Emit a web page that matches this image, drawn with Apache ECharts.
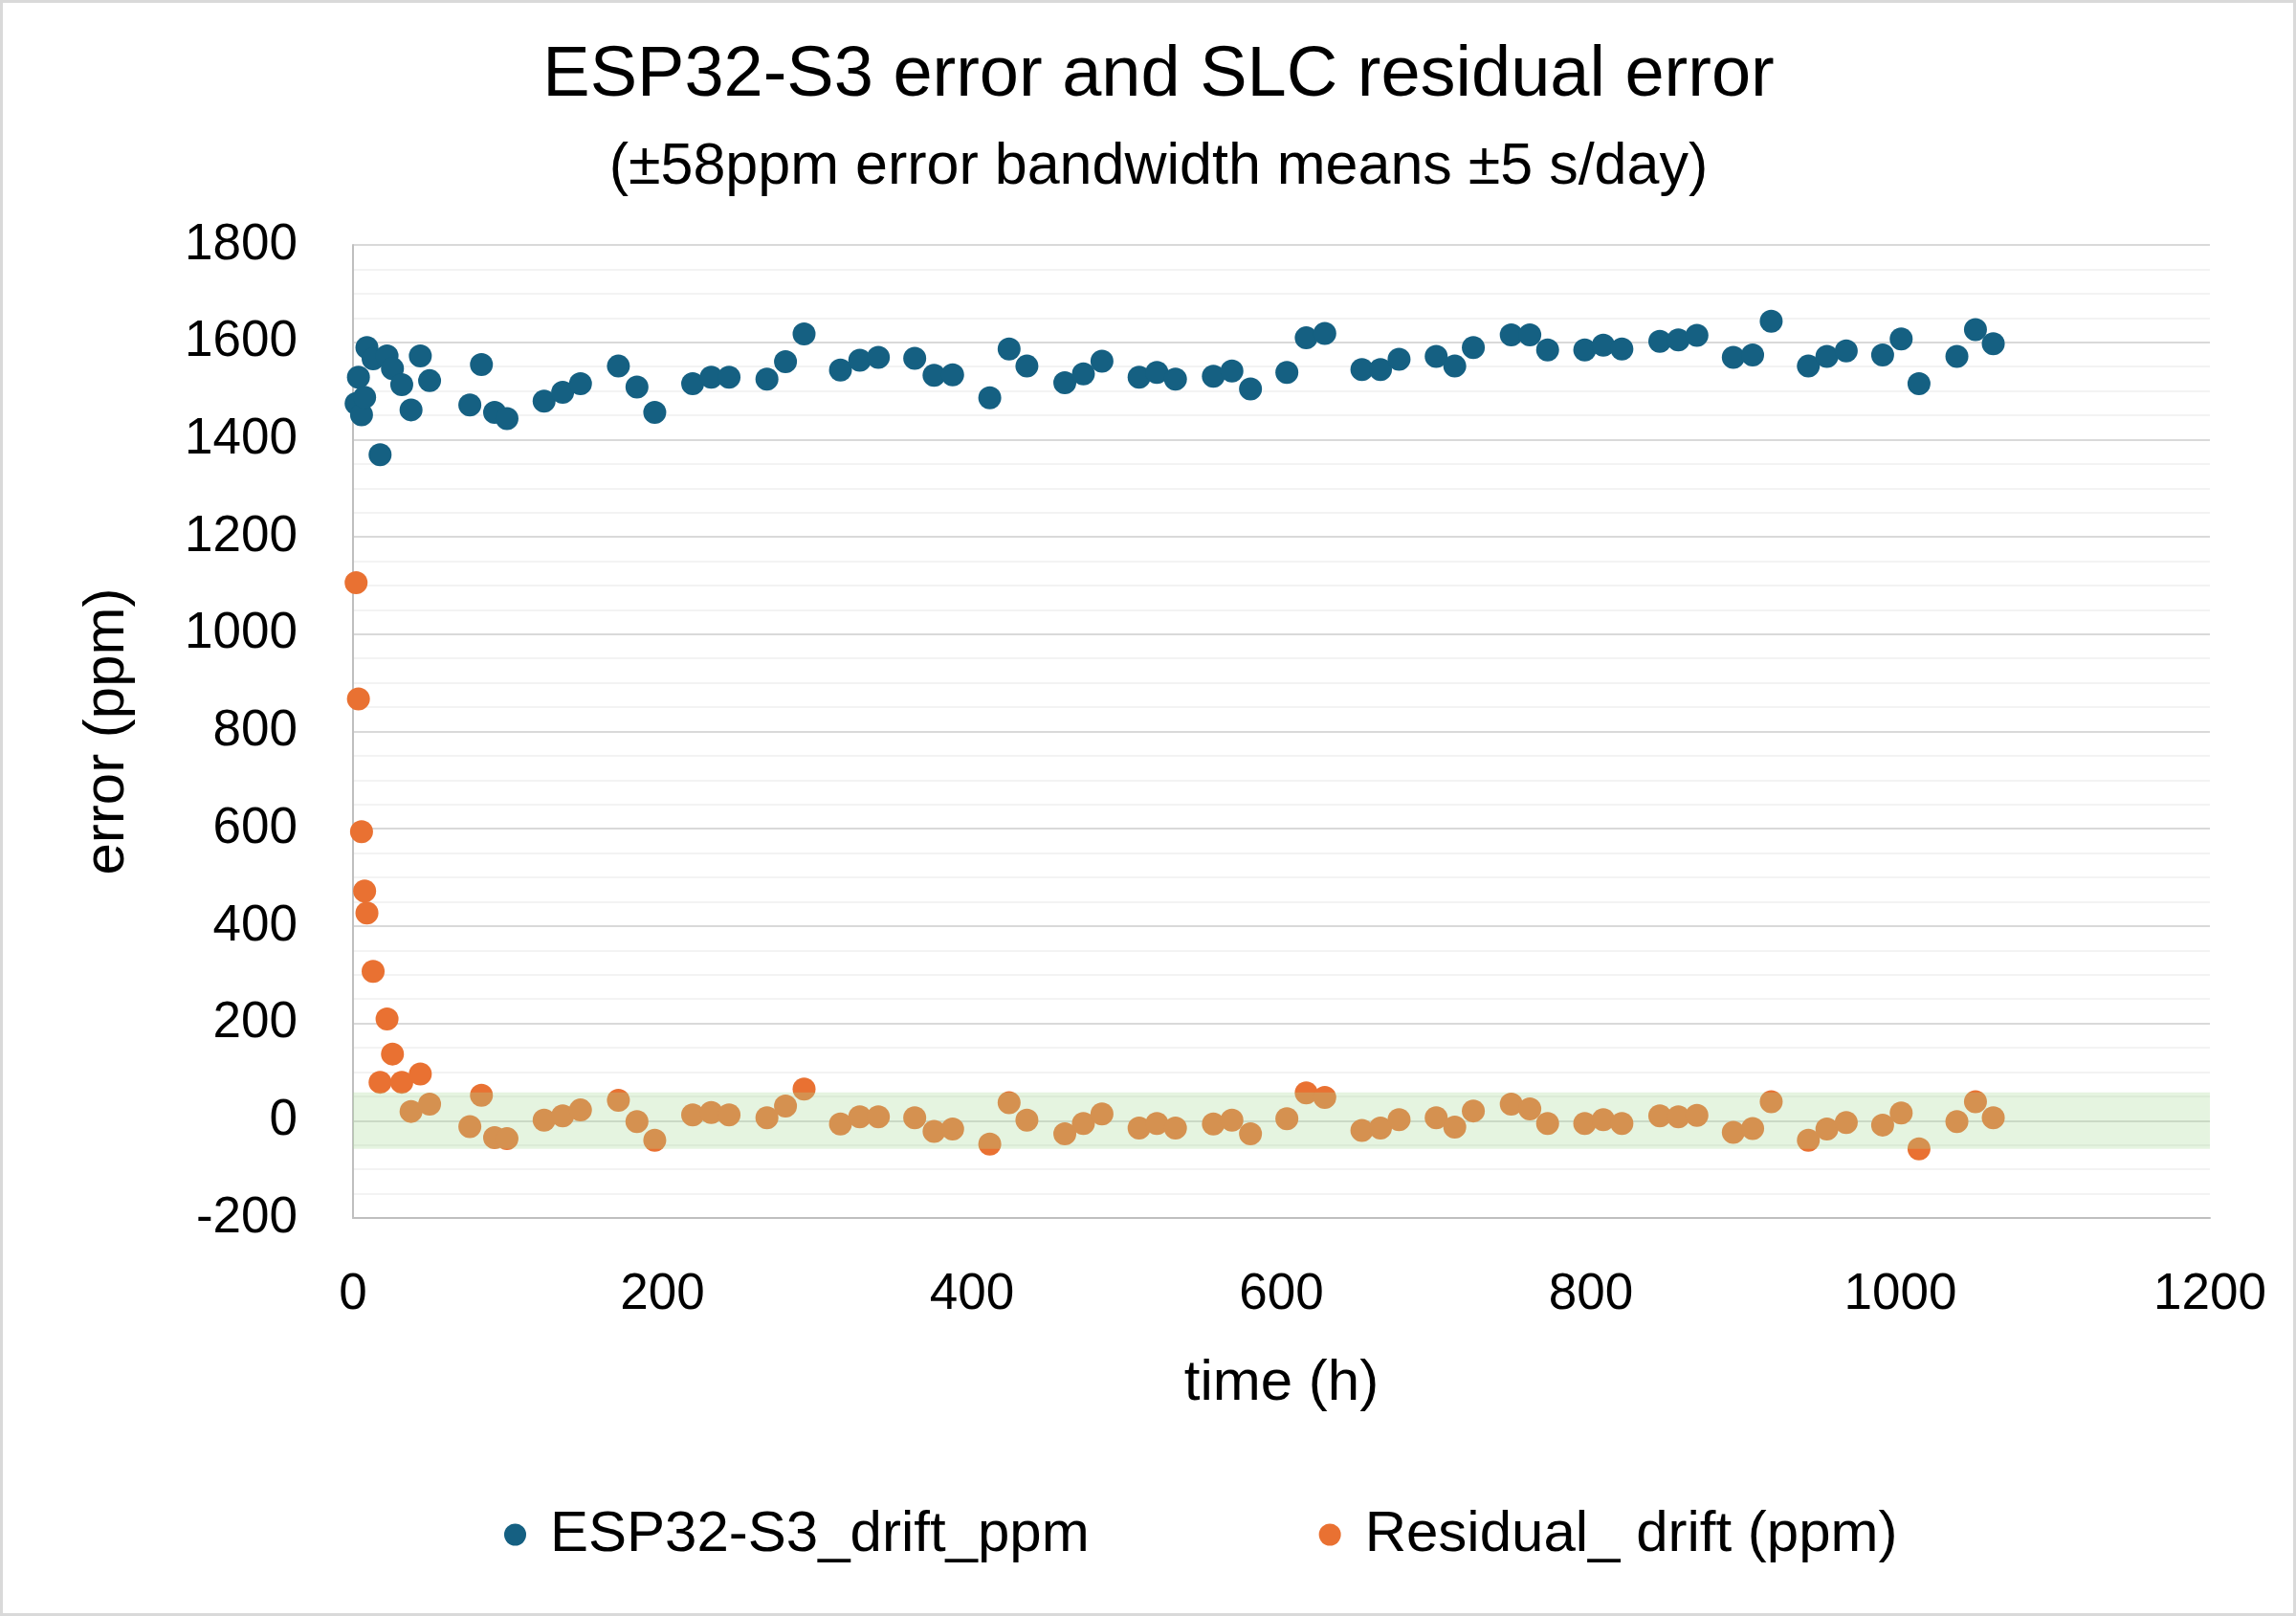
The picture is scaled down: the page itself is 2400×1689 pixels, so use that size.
<!DOCTYPE html>
<html>
<head>
<meta charset="utf-8">
<title>ESP32-S3 error and SLC residual error</title>
<script src="https://cdn.jsdelivr.net/npm/echarts@6/dist/echarts.min.js"></script>
<style>
	html, body { margin: 0; padding: 0; background: #fff; }
	#show { width: 2400px; height: 1689px; }
</style>
</head>
<body>
<div id="show"></div>
<script>
	// 时间 (h)
	var timeH = [2, 3.5, 5.5, 7.5, 9, 13, 17.5, 22, 25.5, 31.5, 37.5, 43.5, 49.5,
		75.5, 83, 91.5, 99.5, 123.5, 135.5, 147, 171.5, 183.5, 195,
		219.5, 231.5, 243, 267.5, 279.5, 291.5, 315, 327.5, 339.5, 363,
		375.5, 387.5, 411.5, 424, 435.5, 460, 472, 484, 508, 519.5,
		531.5, 556, 568, 580, 603.5, 616, 628, 652, 664, 676,
		700, 712, 724, 748.5, 760.5, 772, 796, 808, 820,
		844.5, 856.5, 868.5, 892, 904.5, 916.5, 940.5, 952.5, 965, 988.5,
		1000.5, 1012, 1036.5, 1048.5, 1060];

	// ESP32-S3 drift (ppm)
	var esp32Drift = [1474, 1528, 1451, 1487, 1589, 1566, 1369, 1572, 1546, 1513, 1461, 1572, 1521,
		1471, 1554, 1456, 1443, 1479, 1497, 1515, 1551, 1508, 1456,
		1515, 1528, 1528, 1524, 1560, 1617, 1543, 1563, 1569, 1567,
		1532, 1533, 1486, 1586, 1551, 1517, 1535, 1561, 1528, 1538,
		1524, 1530, 1541, 1504, 1538, 1609, 1618, 1544, 1544, 1565,
		1571, 1551, 1589, 1615, 1615, 1584, 1584, 1594, 1586,
		1602, 1605, 1614, 1569, 1574, 1643, 1551, 1571, 1582, 1574,
		1607, 1515, 1571, 1626, 1597];

	// 残差 (ppm)
	var residualDrift = [1106, 867, 594, 472, 427, 307, 79, 209, 137, 79, 19, 96, 34,
		-12, 52, -35, -37, 1, 10, 22, 42, -2, -40,
		12, 17, 12, 6, 30, 65, -7, 8, 8, 6,
		-22, -17, -48, 37, 1, -27, -6, 14, -15, -6,
		-15, -7, 1, -27, 4, 57, 48, -20, -15, 2,
		6, -13, 20, 34, 24, -6, -6, 2, -6,
		10, 8, 11, -24, -16, 39, -40, -17, -4, -9,
		16, -58, -2, 39, 6];

	// 坐标轴范围
	var xRange = [0, 1200, 200];
	var yRange = [-200, 1800, 200];
	// 误差带 ±58ppm
	var bandLimit = 58;

	var seriesNames = ['ESP32-S3_drift_ppm', 'Residual_ drift (ppm)'];

	var fontName = '"Liberation Sans", Arial, sans-serif';

	var myEchart = echarts.init(document.getElementById("show"));

	var espData = [];
	var resData = [];
	for (var i = 0; i < timeH.length; i++) {
		espData.push([timeH[i], esp32Drift[i]]);
		resData.push([timeH[i], residualDrift[i]]);
	}

	// 不要千位分隔符
	function plainNumber(v) {
		return String(v);
	}

	var option = {
		backgroundColor: '#fff',
		animation: false,
		textStyle: { fontFamily: fontName },
		graphic: [{
			type: 'rect',
			shape: { x: 1.5, y: 1.5, width: 2397, height: 1686 },
			style: { fill: 'none', stroke: '#d9d9d9', lineWidth: 3 },
			silent: true
		}, {
			type: 'text',
			x: 1211,
			y: 80,
			style: {
				text: 'ESP32-S3 error and SLC residual error',
				fontSize: 74,
				fontFamily: fontName,
				fill: '#000',
				align: 'center',
				verticalAlign: 'middle'
			}
		}, {
			type: 'text',
			x: 1211,
			y: 175,
			style: {
				text: '(±58ppm error bandwidth means ±5 s/day)',
				fontSize: 61,
				fontFamily: fontName,
				fill: '#000',
				align: 'center',
				verticalAlign: 'middle'
			}
		}],
		grid: {
			left: 369,
			right: 90,
			top: 256,
			bottom: 416
		},
		legend: {
			left: 522,
			top: 1569,
			icon: 'circle',
			itemWidth: 23,
			itemHeight: 23,
			itemGap: 240,
			textStyle: {
				fontSize: 60,
				color: '#000',
				fontFamily: fontName,
				padding: [0, 0, 0, 20]
			},
			data: seriesNames
		},
		xAxis: {
			type: 'value',
			min: xRange[0],
			max: xRange[1],
			interval: xRange[2],
			name: 'time (h)',
			nameLocation: 'middle',
			nameGap: 143,
			nameTextStyle: { fontSize: 60, color: '#000' },
			axisLine: { onZero: false, lineStyle: { color: '#bfbfbf', width: 2 } },
			axisTick: { show: false },
			axisLabel: { fontSize: 53, color: '#000', margin: 54, formatter: plainNumber },
			splitLine: { show: false }
		},
		yAxis: {
			type: 'value',
			min: yRange[0],
			max: yRange[1],
			interval: yRange[2],
			name: 'error (ppm)',
			nameLocation: 'middle',
			nameGap: 227,
			nameTextStyle: { fontSize: 60, color: '#000' },
			axisLine: { show: true, lineStyle: { color: '#bfbfbf', width: 2 } },
			axisTick: { show: false },
			axisLabel: { fontSize: 53, color: '#000', margin: 58, formatter: plainNumber },
			splitLine: { lineStyle: { color: '#d9d9d9', width: 2 } },
			minorTick: { show: false, splitNumber: 4 },
			minorSplitLine: { show: true, lineStyle: { color: '#f0f0f0', width: 1.5 } }
		},
		series: [{
			name: seriesNames[0],
			type: 'scatter',
			symbolSize: 24,
			itemStyle: { color: '#156082', opacity: 1 },
			data: espData
		}, {
			name: seriesNames[1],
			type: 'scatter',
			symbolSize: 24,
			itemStyle: { color: '#E97132', opacity: 1 },
			data: resData,
			// 绿色误差带画在点的上面
			markArea: {
				z: 5,
				silent: true,
				itemStyle: { color: 'rgba(168,220,152,0.3)' },
				data: [[{ yAxis: -bandLimit }, { yAxis: bandLimit }]]
			}
		}]
	};

	myEchart.setOption(option);
</script>
</body>
</html>
